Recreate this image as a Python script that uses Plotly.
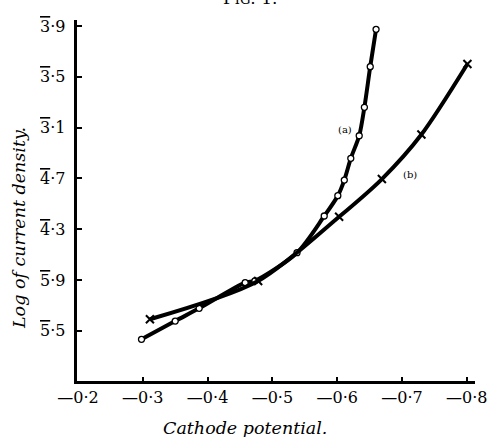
import plotly.graph_objects as go

# curve (a): circles
pot_a = [-0.298, -0.350, -0.387, -0.458, -0.473, -0.538, -0.580, -0.601,
         -0.611, -0.621, -0.634, -0.642, -0.651, -0.660]
logi_a = [-4.567, -4.423, -4.323, -4.121, -4.106, -3.885, -3.596, -3.436,
          -3.313, -3.142, -2.964, -2.740, -2.420, -2.126]

# curve (b): crosses
pot_b = [-0.311, -0.478, -0.603, -0.669, -0.730, -0.801]
logi_b = [-4.409, -4.108, -3.602, -3.305, -2.954, -2.399]

x_ticks = [-0.2, -0.3, -0.4, -0.5, -0.6, -0.7, -0.8]
x_tick_text = ["\u20140\u00b72", "\u20140\u00b73", "\u20140\u00b74", "\u20140\u00b75",
               "\u20140\u00b76", "\u20140\u00b77", "\u20140\u00b78"]
y_ticks = [-2.1, -2.5, -2.9, -3.3, -3.7, -4.1, -4.5]
# bar (negative) characteristic and mantissa of each log label
y_tick_char = ["3", "3", "3", "4", "4", "5", "5"]
y_tick_mant = ["9", "5", "1", "7", "3", "9", "5"]

SERIF = "DejaVu Serif, Liberation Serif, serif"

fig = go.Figure()

fig.add_trace(go.Scatter(
    x=pot_a, y=logi_a,
    mode="lines+markers",
    line=dict(color="black", width=4, shape="spline", smoothing=0.8),
    marker=dict(symbol="circle", size=6, color="white",
                line=dict(color="black", width=1.3)),
    name="(a)",
))

fig.add_trace(go.Scatter(
    x=pot_b, y=logi_b,
    mode="lines+markers",
    line=dict(color="black", width=4, shape="spline", smoothing=0.8),
    marker=dict(symbol="x-thin", size=8,
                line=dict(color="black", width=2)),
    name="(b)",
))

fig.add_annotation(x=-0.612, y=-2.911, text="(a)", showarrow=False,
                   font=dict(family=SERIF, size=10, color="black"))
fig.add_annotation(x=-0.7123, y=-3.273, text="(b)", showarrow=False,
                   font=dict(family=SERIF, size=10, color="black"))

# y tick labels with barred characteristic
for val, ch, m in zip(y_ticks, y_tick_char, y_tick_mant):
    fig.add_annotation(xref="paper", yref="y", x=-10 / 398, y=val,
                       xanchor="right", yanchor="middle", showarrow=False,
                       text=f"<span style='text-decoration:overline'>{ch}</span>\u00b7{m}",
                       font=dict(family=SERIF, size=16, color="black"))

# axis titles placed by hand
fig.add_annotation(xref="paper", yref="paper", x=(245 - 77) / 398, y=-(428 - 381) / 361,
                   yanchor="middle", text="<i>Cathode potential.</i>", showarrow=False,
                   font=dict(family=SERIF, size=17.5, color="black"))
fig.add_annotation(xref="paper", yref="paper", x=-(77 - 19) / 398, y=(381 - 228) / 361,
                   xanchor="center", yanchor="middle",
                   text="<i>Log of current density.</i>", showarrow=False, textangle=-90,
                   font=dict(family=SERIF, size=17.5, color="black"))
# clipped figure caption at the top
fig.add_annotation(xref="paper", yref="paper", x=(250 - 77) / 398, y=1 + 22 / 361,
                   yanchor="middle",
                   text="F<span style='font-size:13px'>IG</span>. 1.", showarrow=False,
                   font=dict(family=SERIF, size=17, color="black"))

fig.update_xaxes(
    range=[-0.19846, -0.8127],
    tickvals=x_ticks, ticktext=x_tick_text,
    ticks="inside", ticklen=4, tickwidth=1.5, tickcolor="black",
    showline=True, linewidth=3, linecolor="black",
    showgrid=False, zeroline=False, automargin=False,
    tickfont=dict(family=SERIF, size=16, color="black"),
)
fig.update_yaxes(
    range=[-4.895, -2.0528],
    tickvals=y_ticks, showticklabels=False,
    ticks="inside", ticklen=5, tickwidth=2, tickcolor="black",
    showline=True, linewidth=3, linecolor="black",
    showgrid=False, zeroline=False, automargin=False,
)

fig.update_layout(
    width=498, height=437,
    margin=dict(l=77, r=23, t=20, b=56, autoexpand=False),
    plot_bgcolor="white", paper_bgcolor="white",
    showlegend=False,
)

fig.write_html("out.html", config={"displayModeBar": False},
               post_script="document.body.style.margin='0px';")
